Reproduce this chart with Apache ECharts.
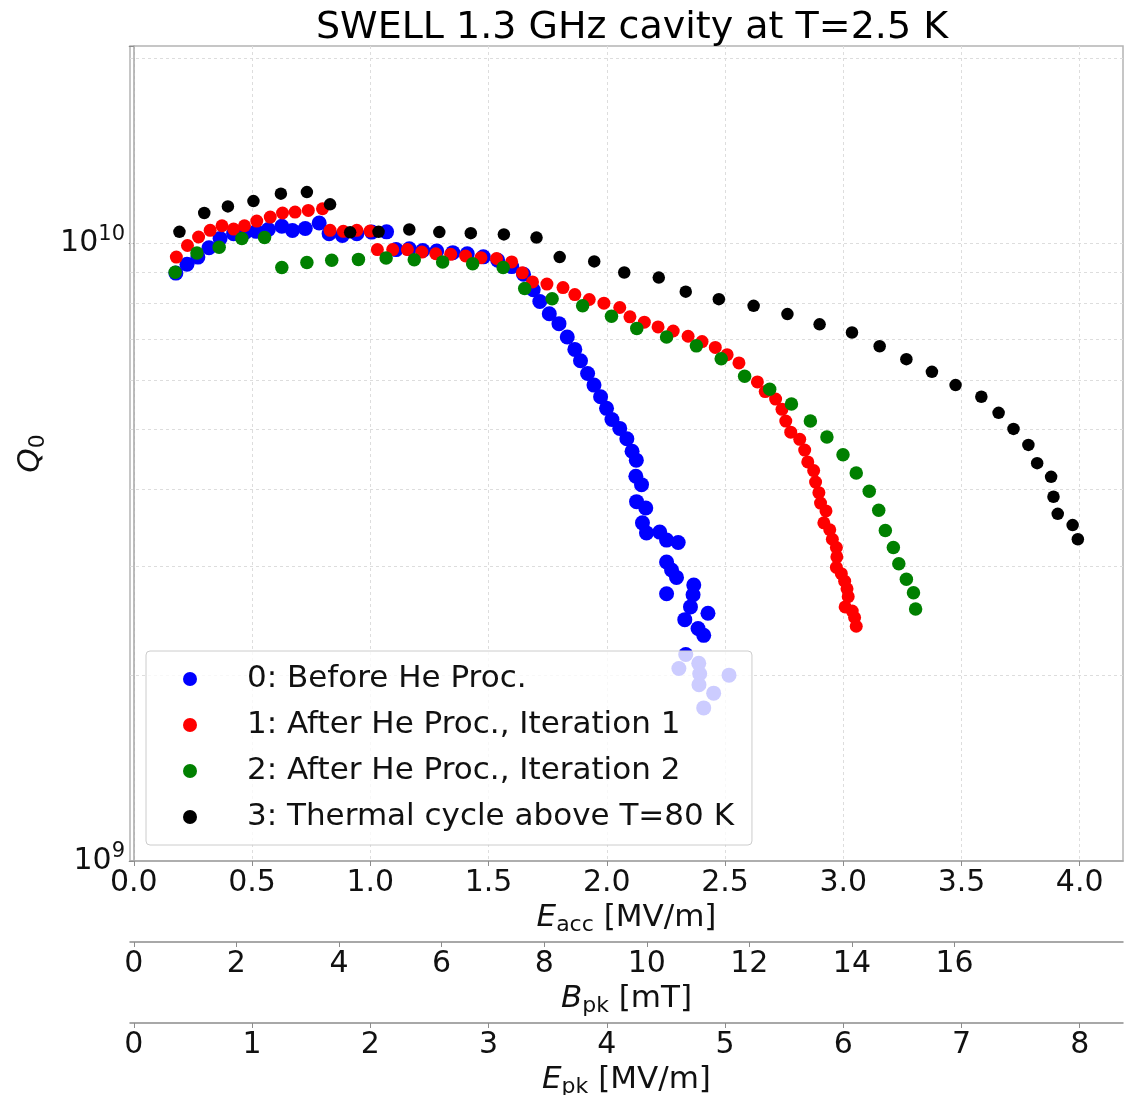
<!DOCTYPE html>
<html>
<head>
<meta charset="utf-8">
<title>SWELL 1.3 GHz cavity at T=2.5 K</title>
<script src="https://cdn.jsdelivr.net/npm/echarts@6/dist/echarts.min.js"></script>
<style>
  html, body { margin: 0; padding: 0; background: #fff; }
  #chart { width: 1134px; height: 1095px; }
</style>
</head>
<body>
<div id="chart"></div>
<script>
// Eacc [MV/m] of every measured point, per run
const eacc0 = [0.178, 0.225, 0.271, 0.318, 0.365, 0.422, 0.471, 0.518, 0.569, 0.626,
  0.671, 0.725, 0.784, 0.826, 0.882, 0.943, 1.006, 1.069, 1.109, 1.165,
  1.222, 1.281, 1.349, 1.410, 1.478, 1.539, 1.598, 1.648, 1.689, 1.717,
  1.757, 1.798, 1.833, 1.865, 1.889, 1.919, 1.946, 1.974, 1.999, 2.022,
  2.055, 2.085, 2.107, 2.125, 2.123, 2.147, 2.126, 2.165, 2.151, 2.168,
  2.224, 2.253, 2.302, 2.253, 2.274, 2.295, 2.368, 2.365, 2.253, 2.354,
  2.428, 2.330, 2.386, 2.410, 2.334, 2.305, 2.389, 2.393, 2.390, 2.452, 2.410, 2.517]
const eacc1 = [0.180, 0.227, 0.274, 0.323, 0.373, 0.422, 0.468, 0.520, 0.577, 0.629,
  0.682, 0.738, 0.798, 0.830, 0.886, 0.943, 0.999, 1.030, 1.095, 1.157,
  1.218, 1.277, 1.340, 1.403, 1.468, 1.534, 1.598, 1.643, 1.686, 1.747,
  1.815, 1.865, 1.926, 1.988, 2.055, 2.098, 2.159, 2.217, 2.281, 2.344,
  2.403, 2.459, 2.509, 2.559, 2.637, 2.670, 2.714, 2.741, 2.757, 2.778,
  2.816, 2.837, 2.850, 2.875, 2.883, 2.897, 2.904, 2.927, 2.918, 2.943,
  2.954, 2.971, 2.973, 2.971, 2.992, 3.006, 3.016, 3.021, 3.008, 3.038, 3.048, 3.055]
const eacc2 = [0.175, 0.267, 0.361, 0.457, 0.553, 0.626, 0.732, 0.837, 0.950, 1.067,
  1.186, 1.306, 1.433, 1.562, 1.653, 1.769, 1.898, 2.020, 2.127, 2.253,
  2.379, 2.484, 2.583, 2.689, 2.781, 2.861, 2.931, 2.999, 3.055, 3.110,
  3.150, 3.178, 3.212, 3.235, 3.267, 3.297, 3.306]
const eacc3 = [0.193, 0.298, 0.398, 0.506, 0.622, 0.732, 0.830, 0.915, 1.035, 1.165,
  1.292, 1.425, 1.565, 1.703, 1.801, 1.947, 2.074, 2.220, 2.334, 2.474,
  2.621, 2.764, 2.900, 3.037, 3.154, 3.267, 3.375, 3.475, 3.584, 3.657,
  3.720, 3.783, 3.820, 3.879, 3.889, 3.907, 3.970, 3.992]

// Q0 in units of 1e9
const Q_UNIT = 1e9
const q0 = [8.96, 9.26, 9.51, 9.85, 10.19, 10.38, 10.43, 10.47, 10.54, 10.67,
  10.50, 10.58, 10.80, 10.38, 10.31, 10.38, 10.44, 10.45, 9.78, 9.81,
  9.75, 9.73, 9.67, 9.63, 9.52, 9.40, 9.18, 8.92, 8.42, 8.06,
  7.70, 7.42, 7.06, 6.74, 6.46, 6.16, 5.90, 5.65, 5.41, 5.19,
  5.02, 4.83, 4.61, 4.46, 4.20, 4.07, 3.82, 3.73, 3.53, 3.40,
  3.41, 3.31, 3.28, 3.05, 2.96, 2.88, 2.80, 2.70, 2.71, 2.58,
  2.52, 2.46, 2.38, 2.32, 2.16, 2.05, 2.09, 2.01, 1.93, 1.87, 1.77, 2.00]
const q1 = [9.51, 9.93, 10.25, 10.51, 10.69, 10.56, 10.69, 10.88, 11.04, 11.21,
  11.25, 11.32, 11.39, 10.51, 10.47, 10.51, 10.48, 9.78, 9.78, 9.78,
  9.69, 9.63, 9.61, 9.55, 9.49, 9.46, 9.34, 8.97, 8.67, 8.60,
  8.49, 8.27, 8.12, 8.01, 7.88, 7.61, 7.46, 7.33, 7.22, 7.08,
  6.94, 6.79, 6.61, 6.41, 5.97, 5.76, 5.60, 5.39, 5.16, 4.95,
  4.82, 4.63, 4.43, 4.29, 4.11, 3.95, 3.80, 3.69, 3.53, 3.44,
  3.32, 3.22, 3.11, 2.99, 2.92, 2.84, 2.76, 2.68, 2.58, 2.54, 2.48, 2.40]
const q2 = [8.99, 9.66, 9.87, 10.19, 10.23, 9.15, 9.32, 9.40, 9.43, 9.48,
  9.42, 9.34, 9.28, 9.15, 8.46, 8.14, 7.93, 7.63, 7.29, 7.06,
  6.83, 6.51, 6.10, 5.81, 5.50, 5.16, 4.86, 4.55, 4.25, 3.97,
  3.70, 3.43, 3.22, 3.03, 2.86, 2.72, 2.56]
const q3 = [10.45, 11.21, 11.49, 11.72, 12.05, 12.12, 11.58, 10.43, 10.45, 10.54,
  10.44, 10.40, 10.35, 10.23, 9.51, 9.36, 8.98, 8.81, 8.36, 8.13,
  7.93, 7.69, 7.40, 7.18, 6.82, 6.50, 6.20, 5.90, 5.65, 5.32,
  5.01, 4.72, 4.41, 4.19, 3.89, 3.65, 3.50, 3.32]

const runNames = ['0: Before He Proc.', '1: After He Proc., Iteration 1',
  '2: After He Proc., Iteration 2', '3: Thermal cycle above T=80 K']
const runColors = ['#0000ff', '#ff0000', '#008000', '#000000']
const runSizes = [15, 13, 13.5, 12.5]

// axis ranges and ticks
const eaccRange = [-0.016, 4.183]
const bpkPerEacc = 4.61   // mT per MV/m
const epkPerEacc = 2.0
const eaccTicks = [0, 0.5, 1.0, 1.5, 2.0, 2.5, 3.0, 3.5, 4.0]
const bpkTicks = [0, 2, 4, 6, 8, 10, 12, 14, 16]
const epkTicks = [0, 1, 2, 3, 4, 5, 6, 7, 8]
const qRange = [1e9, 2.09e10]
const qGrid = [2e9, 3e9, 4e9, 5e9, 6e9, 7e9, 8e9, 9e9, 1e10, 2e10]

const FONT = 'DejaVu Sans'
const TXT = '#111'
const nameRich = {
  i: { fontFamily: FONT, fontSize: 31, fontStyle: 'italic', lineHeight: 36, color: TXT },
  sub: { fontFamily: FONT, fontSize: 22, lineHeight: 22, verticalAlign: 'bottom', color: TXT },
  n: { fontFamily: FONT, fontSize: 31, lineHeight: 36, color: TXT }
}

const chart = echarts.init(document.getElementById('chart'))

// 3 x-axes stacked under one grid, all spanning the same Eacc range
const makeX = (min, max, ticks, offset, name, gap, fmt, main) => ({
  type: 'value',
  position: 'bottom',
  offset: offset,
  min: min,
  max: max,
  name: name,
  nameLocation: 'middle',
  nameGap: gap,
  nameTextStyle: { rich: nameRich },
  axisLine: { show: true, onZero: false, lineStyle: { color: main ? '#a6a6a6' : '#8c8c8c', width: 1.5 } },
  axisTick: { show: true, customValues: ticks, length: 5, lineStyle: { color: '#8c8c8c' } },
  axisLabel: { customValues: ticks, formatter: fmt, margin: 7, fontFamily: FONT, fontSize: 30, color: TXT },
  splitLine: main ? { show: true, lineStyle: { color: '#dddddd', type: [3, 3], width: 1 } } : { show: false }
})

const series = runNames.map((nm, k) => {
  const xs = [eacc0, eacc1, eacc2, eacc3][k]
  const qs = [q0, q1, q2, q3][k]
  return {
    name: nm,
    type: 'scatter',
    symbol: 'circle',
    symbolSize: runSizes[k],
    itemStyle: { color: runColors[k], opacity: 1 },
    data: xs.map((x, i) => [x, qs[i] * Q_UNIT]),
    z: 3 + k
  }
})

// horizontal grid lines at decades and sub-decades of the log axis
series.unshift({
  name: 'grid',
  type: 'scatter',
  data: [],
  z: 1,
  markLine: {
    silent: true,
    symbol: 'none',
    z: 1,
    animation: false,
    label: { show: false },
    lineStyle: { color: '#dddddd', type: [3, 3], width: 1 },
    data: qGrid.map(v => ({ yAxis: v }))
  }
})

const option = {
  animation: false,
  backgroundColor: '#ffffff',
  title: {
    text: 'SWELL 1.3 GHz cavity at T=2.5 K',
    left: 627,
    top: 3,
    textAlign: 'center',
    textStyle: { fontFamily: FONT, fontSize: 38, fontWeight: 'normal', color: '#000', lineHeight: 40 }
  },
  grid: {
    left: 130, right: 11, top: 46, bottom: 234,
    outerBoundsMode: 'none',
    show: true, borderColor: '#b4b4b4', borderWidth: 1.5, backgroundColor: 'transparent'
  },
  legend: {
    data: runNames,
    orient: 'vertical',
    left: 146,
    top: 651,
    selectedMode: false,
    backgroundColor: 'rgba(255,255,255,0.8)',
    borderColor: '#cccccc',
    borderWidth: 1,
    borderRadius: 4,
    padding: [10, 18, 10, 37],
    itemGap: 10,
    itemWidth: 30,
    itemHeight: 14,
    textStyle: { fontFamily: FONT, fontSize: 31, color: TXT, lineHeight: 36, padding: [0, 0, 0, 37] }
  },
  xAxis: [
    makeX(eaccRange[0], eaccRange[1], eaccTicks, 0, '{i|E}{sub|acc}{n| [MV/m]}', 34,
      v => v.toFixed(1), true),
    makeX(eaccRange[0] * bpkPerEacc, eaccRange[1] * bpkPerEacc, bpkTicks, 81, '{i|B}{sub|pk}{n| [mT]}', 35,
      v => String(Math.round(v)), false),
    makeX(eaccRange[0] * epkPerEacc, eaccRange[1] * epkPerEacc, epkTicks, 162, '{i|E}{sub|pk}{n| [MV/m]}', 36,
      v => String(Math.round(v)), false)
  ],
  yAxis: {
    type: 'log',
    logBase: 10,
    min: qRange[0],
    max: qRange[1],
    name: '{i|Q}{sub|0}',
    nameLocation: 'middle',
    nameRotate: 90,
    nameGap: 66,
    nameTextStyle: { rich: nameRich },
    axisLine: { show: true, lineStyle: { color: '#a6a6a6', width: 1.5 } },
    axisTick: { show: true, length: 5, lineStyle: { color: '#8c8c8c' } },
    splitLine: { show: false },
    axisLabel: {
      margin: 5,
      formatter: v => {
        const e = Math.log10(v)
        if (Math.abs(e - Math.round(e)) > 1e-6) return ''
        return '{b|10}{s|' + Math.round(e) + '}'
      },
      rich: {
        b: { fontFamily: FONT, fontSize: 30, lineHeight: 40, color: TXT },
        s: { fontFamily: FONT, fontSize: 21, lineHeight: 20, verticalAlign: 'top', color: TXT }
      }
    }
  },
  series: series
}

chart.setOption(option)
</script>
</body>
</html>
